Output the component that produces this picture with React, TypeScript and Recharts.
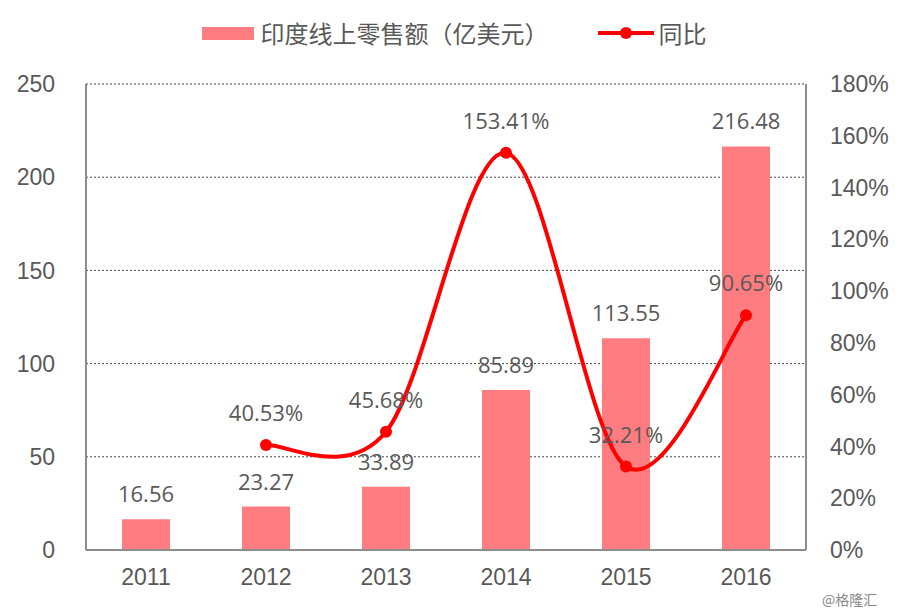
import { Bar, CartesianGrid, ComposedChart, LabelList, Line, XAxis, YAxis } from 'recharts'

const years = ['2011', '2012', '2013', '2014', '2015', '2016']
const sales = [16.56, 23.27, 33.89, 85.89, 113.55, 216.48]
const yoy = [null, 40.53, 45.68, 153.41, 32.21, 90.65]
const leftTicks = [0, 50, 100, 150, 200, 250]
const rightTicks = [0, 20, 40, 60, 80, 100, 120, 140, 160, 180]

const data = years.map((year, i) => ({ year, sales: sales[i], yoy: yoy[i] }))

const TEXT = '#595959'
const BAR = '#FF7C80'
const LINE = '#FF0000'
const AXIS = '#8C8C8C'
const TICK_FONT = '"Liberation Sans", Arial, sans-serif'
const LABEL_FONT = '"Open Sans", "Noto Sans", sans-serif'
const CJK_FONT = '"Noto Sans CJK SC", sans-serif'

// Excel-style smoothed line: Catmull-Rom through the points, as bezier segments
const smoothCurve = (context: any) => {
  let pts: number[][] = []
  return {
    areaStart() {},
    areaEnd() {},
    lineStart() {
      pts = []
    },
    point(x: number, y: number) {
      pts.push([+x, +y])
    },
    lineEnd() {
      if (!pts.length) return
      context.moveTo(pts[0][0], pts[0][1])
      for (let i = 0; i < pts.length - 1; i++) {
        const p0 = pts[i - 1] || pts[i]
        const p1 = pts[i]
        const p2 = pts[i + 1]
        const p3 = pts[i + 2] || p2
        context.bezierCurveTo(
          p1[0] + (p2[0] - p0[0]) / 6,
          p1[1] + (p2[1] - p0[1]) / 6,
          p2[0] - (p3[0] - p1[0]) / 6,
          p2[1] - (p3[1] - p1[1]) / 6,
          p2[0],
          p2[1],
        )
      }
    },
  }
}

function TopLegend() {
  return (
    <div
      style={{
        position: 'absolute',
        left: 0,
        top: 17,
        width: 908,
        display: 'flex',
        justifyContent: 'center',
        alignItems: 'center',
        fontFamily: CJK_FONT,
        fontSize: 24,
        lineHeight: '32px',
        color: TEXT,
      }}
    >
      <span style={{ display: 'inline-block', width: 52, height: 13, background: BAR, marginRight: 7 }} />
      <span>印度线上零售额（亿美元）</span>
      <svg width={56} height={16} style={{ marginLeft: 49, marginRight: 5 }}>
        <line x1={0} y1={8} x2={56} y2={8} stroke={LINE} strokeWidth={4} />
        <circle cx={28} cy={8} r={6} fill={LINE} />
      </svg>
      <span>同比</span>
    </div>
  )
}

export default function App() {
  return (
    <div style={{ position: 'absolute', left: 0, top: 0, width: 908, height: 611, background: '#fff' }}>
      <ComposedChart width={908} height={611} data={data} margin={{ top: 84, right: 0, bottom: 0, left: 0 }}>
        <CartesianGrid yAxisId="left" vertical={false} stroke="#444" strokeDasharray="2 2" />
        <XAxis
          dataKey="year"
          height={61}
          stroke={AXIS}
          strokeWidth={2}
          tickLine={false}
          tickSize={0}
          tickMargin={19}
          tick={{ fontSize: 23, fill: TEXT, fontFamily: TICK_FONT }}
        />
        <YAxis
          yAxisId="left"
          width={86}
          domain={[0, 250]}
          ticks={leftTicks}
          stroke={AXIS}
          strokeWidth={2}
          tickLine={false}
          tickSize={0}
          tickMargin={31}
          tick={{ fontSize: 23, fill: TEXT, fontFamily: TICK_FONT }}
        />
        <YAxis
          yAxisId="right"
          orientation="right"
          width={102}
          domain={[0, 180]}
          ticks={rightTicks}
          tickFormatter={(v) => `${v}%`}
          stroke={AXIS}
          strokeWidth={2}
          tickLine={false}
          tickSize={0}
          tickMargin={24}
          tick={{ fontSize: 23, fill: TEXT, fontFamily: TICK_FONT }}
        />
        <Bar yAxisId="left" dataKey="sales" fill={BAR} barSize={48} isAnimationActive={false}>
          <LabelList dataKey="sales" position="top" offset={17} fill={TEXT} fontSize={22} fontFamily={LABEL_FONT} />
        </Bar>
        <Line
          yAxisId="right"
          dataKey="yoy"
          type={smoothCurve as any}
          stroke={LINE}
          strokeWidth={4}
          dot={{ r: 6, fill: LINE, stroke: LINE, strokeWidth: 0 }}
          activeDot={false}
          isAnimationActive={false}
        >
          <LabelList
            dataKey="yoy"
            position="top"
            offset={24}
            fill={TEXT}
            fontSize={22}
            fontFamily={LABEL_FONT}
            formatter={(v) => (v == null ? '' : `${Number(v).toFixed(2)}%`)}
          />
        </Line>
      </ComposedChart>
      <TopLegend />
      <div style={{ position: 'absolute', left: 822, top: 589, fontFamily: CJK_FONT, fontSize: 14, color: '#888' }}>@格隆汇</div>
    </div>
  )
}
